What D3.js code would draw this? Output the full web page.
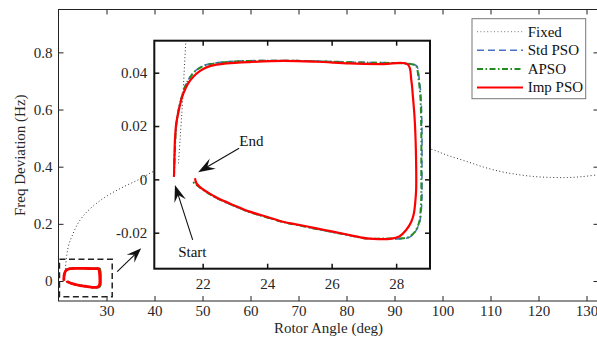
<!DOCTYPE html>
<html>
<head>
<meta charset="utf-8">
<script src="https://cdn.jsdelivr.net/npm/d3@7"></script>
<style>
body { margin: 0; background: #fff; }
svg { display: block; font-family: "Liberation Serif", "Times New Roman", serif; }
</style>
</head>
<body>
<svg id="chart" width="597" height="344"></svg>
<script>
// ---- data ----
const seriesNames = ["Fixed", "Std PSO", "APSO", "Imp PSO"];

const fixedAngle = [21.25, 21.3, 21.38, 21.48, 21.62, 21.81, 22.2, 22.85, 23.9, 25.27, 27.35, 30.15, 33.6, 37.1, 40,
    45, 50, 60, 70, 80, 88, 93, 97.5, 101, 105.1, 108.5, 112.1, 115.5, 119, 122.5, 126, 129, 132.5];
const fixedFreq = [0.006, 0.015, 0.03, 0.052, 0.076, 0.1, 0.13, 0.158, 0.197, 0.23, 0.264, 0.298, 0.33, 0.358, 0.385,
    0.41, 0.43, 0.455, 0.472, 0.48, 0.478, 0.472, 0.4616, 0.44, 0.418, 0.399, 0.383, 0.373, 0.3656, 0.3625, 0.362, 0.365, 0.372];

const stdAngle = [21.11, 21.13, 21.17, 21.23, 21.3, 21.4, 21.5, 21.66, 21.81, 22.02, 22.22, 22.64, 22.95, 24.49, 26.56,
    28.53, 28.64, 28.72, 28.77, 28.8, 28.8, 28.8, 28.78, 28.74, 28.65, 28.53, 28.37, 28.22, 27.59, 27.08, 26.56,
    26.04, 25.53, 25.01, 24.49, 23.98, 23.46, 22.95, 22.43, 22.12, 21.91, 21.78, 21.7];
const stdFreq = [0.001, 0.0086, 0.0186, 0.0248, 0.0286, 0.033, 0.0361, 0.0392, 0.0411, 0.0426, 0.0433, 0.044, 0.0443, 0.0446, 0.044,
    0.0431, 0.0425, 0.0372, 0.031, 0.0185, 0.0035, -0.0065, -0.0116, -0.0154, -0.0185, -0.0206, -0.0219, -0.0222, -0.0223, -0.0222, -0.021,
    -0.0198, -0.0186, -0.0173, -0.016, -0.0142, -0.0123, -0.0098, -0.007, -0.0048, -0.003, -0.0018, -0.0009];

const apsoAngle = [21.11, 21.13, 21.17, 21.23, 21.3, 21.4, 21.5, 21.66, 21.81, 22.02, 22.22, 22.64, 22.95, 24.49, 26.56,
    28.52, 28.62, 28.7, 28.75, 28.78, 28.78, 28.78, 28.76, 28.73, 28.64, 28.52, 28.36, 28.21, 27.59, 27.08, 26.56,
    26.04, 25.53, 25.01, 24.49, 23.98, 23.46, 22.95, 22.43, 22.12, 21.91, 21.78, 21.7];
const apsoFreq = [0.001, 0.0085, 0.0185, 0.0247, 0.0285, 0.0329, 0.036, 0.0391, 0.041, 0.0425, 0.0432, 0.0439, 0.0442, 0.0445, 0.0439,
    0.0431, 0.0425, 0.0372, 0.031, 0.0185, 0.0035, -0.0065, -0.0115, -0.0153, -0.0184, -0.0205, -0.0218, -0.0221, -0.0222, -0.0222, -0.021,
    -0.0198, -0.0186, -0.0173, -0.016, -0.0142, -0.0123, -0.0098, -0.007, -0.0048, -0.003, -0.0018, -0.0009];

const impAngle = [21.11, 21.12, 21.14, 21.18, 21.24, 21.32, 21.4, 21.55, 21.71, 21.91, 22.12, 22.43, 22.74, 23.46, 24.49,
    25.53, 26.56, 27.59, 28.36, 28.47, 28.52, 28.57, 28.6, 28.62, 28.62, 28.59, 28.55, 28.47, 28.31, 28.11, 27.8,
    27.59, 27.08, 26.56, 26.04, 25.53, 25.01, 24.49, 23.98, 23.46, 22.95, 22.43, 22.12, 21.91, 21.81, 21.76];
const impFreq = [0.001, 0.006, 0.0147, 0.021, 0.0247, 0.0291, 0.0322, 0.036, 0.0385, 0.0406, 0.042, 0.043, 0.0435, 0.044, 0.0444,
    0.0441, 0.0435, 0.0432, 0.0431, 0.0372, 0.031, 0.0235, 0.016, 0.006, -0.004, -0.009, -0.0128, -0.0159, -0.019, -0.0213, -0.0223,
    -0.0224, -0.0221, -0.0209, -0.0196, -0.0184, -0.0171, -0.0159, -0.014, -0.0121, -0.0096, -0.0068, -0.0046, -0.0028, -0.0015, 0.0004];

const mainXTicks = [30, 40, 50, 60, 70, 80, 90, 100, 110, 120, 130];
const mainYTicks = [0, 0.2, 0.4, 0.6, 0.8];
const insetXTicks = [22, 24, 26, 28];
const insetYTicks = [-0.02, 0, 0.02, 0.04];

// ---- layout ----
const svg = d3.select("#chart");
const M = {left: 58.5, right: 598.5, top: 9.5, bottom: 301};
const I = {left: 154.3, right: 430, top: 40.7, bottom: 268.7};

const x = d3.scaleLinear().domain([20, 132.5]).range([M.left, M.right]);
const y = d3.scaleLinear().domain([-0.07, 0.95]).range([M.bottom, M.top]);
const ix = d3.scaleLinear().domain([20.5, 29.05]).range([I.left, I.right]);
const iy = d3.scaleLinear().domain([-0.0335, 0.052]).range([I.bottom, I.top]);

const styles = [
    {color: "#333", width: 1, dash: "1,2.4"},
    {color: "#4a72c4", width: 1.6, dash: "7,4"},
    {color: "#228b22", width: 2, dash: "6,2.5,1.5,2.5"},
    {color: "#ff0000", width: 2.2, dash: null}
];

const series = [
    d3.zip(fixedAngle, fixedFreq),
    d3.zip(stdAngle, stdFreq),
    d3.zip(apsoAngle, apsoFreq),
    d3.zip(impAngle, impFreq)
];

const defs = svg.append("defs");
defs.append("clipPath").attr("id", "clipMain").append("rect")
    .attr("x", M.left).attr("y", M.top).attr("width", M.right - M.left).attr("height", M.bottom - M.top);
defs.append("clipPath").attr("id", "clipInset").append("rect")
    .attr("x", I.left).attr("y", I.top).attr("width", I.right - I.left).attr("height", I.bottom - I.top);

function styleAxis(g, fontSize) {
    g.select(".domain").remove();
    g.selectAll("line").attr("stroke", "#222");
    g.selectAll("text").attr("fill", "#262626").style("font-size", fontSize + "px")
        .style("font-family", "'Liberation Serif', 'Times New Roman', serif");
}

// ---- main axes ----
const mainG = svg.append("g");
mainG.append("g").attr("transform", `translate(0,${M.bottom})`)
    .call(d3.axisBottom(x).tickValues(mainXTicks).tickSize(-5).tickPadding(4))
    .call(g => styleAxis(g, 15));
mainG.append("g").attr("transform", `translate(0,${M.top})`)
    .call(d3.axisTop(x).tickValues(mainXTicks).tickSize(-5).tickFormat(""))
    .call(g => styleAxis(g, 15));
mainG.append("g").attr("transform", `translate(${M.left},0)`)
    .call(d3.axisLeft(y).tickValues(mainYTicks).tickSize(-5).tickPadding(6).tickFormat(d => String(d)))
    .call(g => styleAxis(g, 15));
mainG.append("g").attr("transform", `translate(${M.right},0)`)
    .call(d3.axisRight(y).tickValues(mainYTicks).tickSize(-5).tickFormat(""))
    .call(g => styleAxis(g, 15));
mainG.append("rect")
    .attr("x", M.left).attr("y", M.top).attr("width", M.right - M.left).attr("height", M.bottom - M.top)
    .attr("fill", "none").attr("stroke", "#222").attr("stroke-width", 1);

const curve = d3.curveCatmullRom.alpha(0.5);
const mainLine = d3.line().x(d => x(d[0])).y(d => y(d[1])).curve(curve);
const mainPlot = mainG.append("g").attr("clip-path", "url(#clipMain)");
series.forEach((s, i) => {
    mainPlot.append("path").datum(s)
        .attr("d", mainLine).attr("fill", "none")
        .attr("stroke", styles[i].color)
        .attr("stroke-width", i === 3 ? 2.8 : styles[i].width)
        .attr("stroke-dasharray", i === 0 ? styles[i].dash : null);
});

// dashed zoom box + pointer arrow
const zoomBox = [[20.2, 31.19], [-0.055, 0.076]];
mainG.append("rect")
    .attr("x", x(zoomBox[0][0])).attr("y", y(zoomBox[1][1]))
    .attr("width", x(zoomBox[0][1]) - x(zoomBox[0][0]))
    .attr("height", y(zoomBox[1][0]) - y(zoomBox[1][1]))
    .attr("fill", "none").attr("stroke", "#222").attr("stroke-width", 1.5)
    .attr("stroke-dasharray", "6,3.5");

function arrow(g, x1, y1, x2, y2, len, wid) {
    const ang = Math.atan2(y2 - y1, x2 - x1);
    const bx = x2 - Math.cos(ang) * len * 0.6, by = y2 - Math.sin(ang) * len * 0.6;
    g.append("line").attr("x1", x1).attr("y1", y1).attr("x2", bx).attr("y2", by)
        .attr("stroke", "#111").attr("stroke-width", 1.1);
    g.append("path")
        .attr("d", `M0,0 L${-len},${-wid / 2} L${-len * 0.62},0 L${-len},${wid / 2} Z`)
        .attr("transform", `translate(${x2},${y2}) rotate(${ang * 180 / Math.PI})`)
        .attr("fill", "#111");
}
arrow(mainG, x(32.23), y(0.0326), x(37.23), y(0.1146), 15, 11);

// ---- inset ----
const inset = svg.append("g");
inset.append("rect")
    .attr("x", I.left).attr("y", I.top).attr("width", I.right - I.left).attr("height", I.bottom - I.top)
    .attr("fill", "#fff");
const insetLine = d3.line().x(d => ix(d[0])).y(d => iy(d[1])).curve(curve);
const insetPlot = inset.append("g").attr("clip-path", "url(#clipInset)");
series.forEach((s, i) => {
    insetPlot.append("path").datum(s)
        .attr("d", insetLine).attr("fill", "none")
        .attr("stroke", styles[i].color)
        .attr("stroke-width", styles[i].width)
        .attr("stroke-dasharray", styles[i].dash);
});
inset.append("g").attr("transform", `translate(0,${I.bottom})`)
    .call(d3.axisBottom(ix).tickValues(insetXTicks).tickSize(-5).tickPadding(10))
    .call(g => styleAxis(g, 15));
inset.append("g").attr("transform", `translate(0,${I.top})`)
    .call(d3.axisTop(ix).tickValues(insetXTicks).tickSize(-5).tickFormat(""))
    .call(g => styleAxis(g, 15));
inset.append("g").attr("transform", `translate(${I.left},0)`)
    .call(d3.axisLeft(iy).tickValues(insetYTicks).tickSize(-5).tickPadding(7).tickFormat(d => String(d)))
    .call(g => styleAxis(g, 15));
inset.append("g").attr("transform", `translate(${I.right},0)`)
    .call(d3.axisRight(iy).tickValues(insetYTicks).tickSize(-5).tickFormat(""))
    .call(g => styleAxis(g, 15));
inset.selectAll("line").attr("stroke", "#111").attr("stroke-width", 1.5);
inset.append("rect")
    .attr("x", I.left).attr("y", I.top).attr("width", I.right - I.left).attr("height", I.bottom - I.top)
    .attr("fill", "none").attr("stroke", "#111").attr("stroke-width", 2);

// Start / End annotations (inset data coords)
arrow(inset, ix(21.69), iy(-0.0227), ix(21.14), iy(-0.0021), 17, 12);
arrow(inset, ix(23.13), iy(0.0117), ix(21.86), iy(0.0027), 17, 12);
inset.append("text").attr("x", ix(21.68)).attr("y", iy(-0.0291))
    .attr("text-anchor", "middle").style("font-size", "15px").attr("fill", "#111").text("Start");
inset.append("text").attr("x", ix(23.51)).attr("y", iy(0.0126))
    .attr("text-anchor", "middle").style("font-size", "15px").attr("fill", "#111").text("End");

// ---- axis titles ----
svg.append("text").attr("x", (M.left + M.right) / 2).attr("y", 333)
    .attr("text-anchor", "middle").style("font-size", "15px").attr("fill", "#262626")
    .text("Rotor Angle (deg)");
svg.append("text").attr("transform", `translate(25,${(M.top + M.bottom) / 2}) rotate(-90)`)
    .attr("text-anchor", "middle").style("font-size", "15px").attr("fill", "#262626")
    .text("Freq Deviation (Hz)");

// ---- legend ----
const leg = svg.append("g").attr("transform", "translate(472,18.7)");
leg.append("rect").attr("width", 113.7).attr("height", 80)
    .attr("fill", "#fff").attr("stroke", "#777").attr("stroke-width", 1);
seriesNames.forEach((name, i) => {
    const yy = 13 + i * 18.6;
    leg.append("line").attr("x1", 5).attr("x2", 51).attr("y1", yy).attr("y2", yy)
        .attr("stroke", i === 0 ? "#777" : styles[i].color)
        .attr("stroke-width", styles[i].width)
        .attr("stroke-dasharray", styles[i].dash);
    leg.append("text").attr("x", 55.7).attr("y", yy).attr("dy", "0.33em")
        .style("font-size", "15px").attr("fill", "#111").text(name);
});
</script>
</body>
</html>
